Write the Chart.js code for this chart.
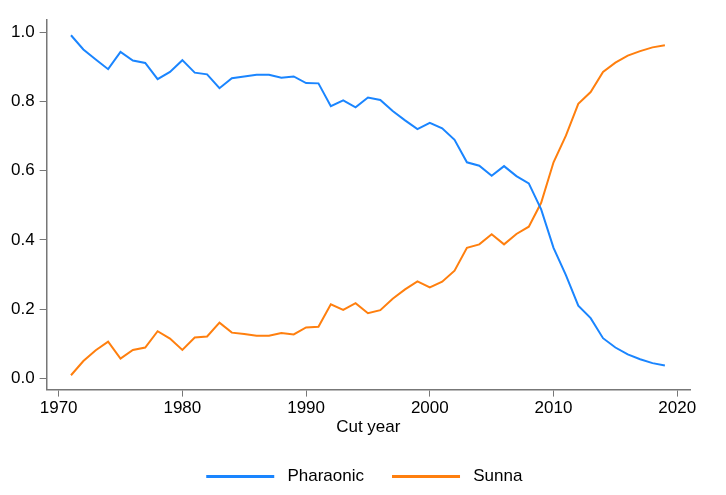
<!DOCTYPE html>
<html>
<head>
<meta charset="utf-8">
<script src="https://cdn.jsdelivr.net/npm/chart.js@4"></script>
<style>
    html, body { margin: 0; padding: 0; background: #fff; }
    #wrap { width: 726px; height: 495px; }
</style>
</head>
<body>
<div id="wrap"><canvas id="cutChart" width="726" height="495"></canvas></div>
<script>
// data
const years = [1971, 1972, 1973, 1974, 1975, 1976, 1977, 1978, 1979, 1980,
               1981, 1982, 1983, 1984, 1985, 1986, 1987, 1988, 1989, 1990,
               1991, 1992, 1993, 1994, 1995, 1996, 1997, 1998, 1999, 2000,
               2001, 2002, 2003, 2004, 2005, 2006, 2007, 2008, 2009, 2010,
               2011, 2012, 2013, 2014, 2015, 2016, 2017, 2018, 2019];

const pharaonic = [0.991, 0.950, 0.921, 0.893, 0.943, 0.918, 0.911, 0.864, 0.885, 0.919,
                   0.883, 0.878, 0.838, 0.867, 0.872, 0.877, 0.877, 0.868, 0.872, 0.853,
                   0.852, 0.786, 0.803, 0.783, 0.811, 0.804, 0.772, 0.745, 0.720, 0.738,
                   0.722, 0.689, 0.624, 0.614, 0.585, 0.613, 0.584, 0.563, 0.488, 0.377,
                   0.298, 0.210, 0.174, 0.116, 0.089, 0.069, 0.055, 0.044, 0.037];

const sunna = [0.009, 0.050, 0.081, 0.106, 0.057, 0.082, 0.089, 0.136, 0.115, 0.082,
               0.118, 0.121, 0.161, 0.132, 0.128, 0.123, 0.123, 0.131, 0.127, 0.147,
               0.149, 0.214, 0.198, 0.217, 0.188, 0.197, 0.230, 0.257, 0.280, 0.263,
               0.279, 0.311, 0.377, 0.387, 0.416, 0.387, 0.417, 0.438, 0.507, 0.624,
               0.701, 0.793, 0.827, 0.885, 0.912, 0.932, 0.945, 0.956, 0.962];

const xTicks = [1970, 1980, 1990, 2000, 2010, 2020];
const yTicks = [0, 0.2, 0.4, 0.6, 0.8, 1.0];

const blue = '#1a85ff';
const orange = '#ff7f0e';
const axisGrey = '#777777';
const fontFamily = '"Liberation Sans", Arial, sans-serif';

function toPoints(values) {
    return years.map((y, i) => ({ x: y, y: values[i] }));
}

// center the legend under the plot area instead of the whole canvas
const legendUnderPlot = {
    id: 'legendUnderPlot',
    afterLayout: function(chart) {
        if (chart.legend) {
            chart.legend.left = chart.chartArea.left - 4;
            chart.legend.right = chart.chartArea.right - 4;
            chart.legend.width = chart.chartArea.right - chart.chartArea.left;
        }
    }
};

const ctx = document.getElementById('cutChart').getContext('2d');
new Chart(ctx, {
    type: 'line',
    data: {
        datasets: [
            {
                label: 'Pharaonic',
                data: toPoints(pharaonic),
                borderColor: blue,
                backgroundColor: blue,
                borderWidth: 2,
                pointRadius: 0,
                tension: 0
            },
            {
                label: 'Sunna',
                data: toPoints(sunna),
                borderColor: orange,
                backgroundColor: orange,
                borderWidth: 2,
                pointRadius: 0,
                tension: 0
            }
        ]
    },
    options: {
        responsive: false,
        animation: false,
        layout: {
            padding: { left: 6, right: 36, top: 20, bottom: 0 }
        },
        plugins: {
            tooltip: { enabled: false },
            legend: {
                position: 'bottom',
                labels: {
                    color: '#000',
                    font: { family: fontFamily, size: 17 },
                    boxWidth: 68,
                    boxHeight: 3,
                    padding: 28,
                    generateLabels: function(chart) {
                        // leading space widens the gap between line and text
                        return chart.data.datasets.map((ds, i) => ({
                            text: ' ' + ds.label,
                            fillStyle: ds.borderColor,
                            strokeStyle: ds.borderColor,
                            lineWidth: 0,
                            fontColor: '#000',
                            datasetIndex: i
                        }));
                    }
                }
            }
        },
        scales: {
            x: {
                type: 'linear',
                min: 1969.03,
                max: 2021.03,
                afterBuildTicks: function(axis) {
                    axis.ticks = xTicks.map(v => ({ value: v }));
                },
                grid: {
                    display: true,
                    drawOnChartArea: false,
                    drawTicks: true,
                    tickLength: 7,
                    color: axisGrey
                },
                border: { display: true, color: axisGrey, width: 1.5 },
                ticks: {
                    color: '#000',
                    padding: 2,
                    maxRotation: 0,
                    font: { family: fontFamily, size: 17 },
                    callback: v => String(v)
                },
                title: {
                    display: true,
                    text: 'Cut year',
                    color: '#000',
                    font: { family: fontFamily, size: 17, lineHeight: 1.0 },
                    padding: { top: -2, bottom: 4 }
                }
            },
            y: {
                min: -0.0325,
                max: 1.035,
                afterBuildTicks: function(axis) {
                    axis.ticks = yTicks.map(v => ({ value: v }));
                },
                grid: {
                    display: true,
                    drawOnChartArea: false,
                    drawTicks: true,
                    tickLength: 7,
                    color: axisGrey
                },
                border: { display: true, color: axisGrey, width: 1.5 },
                ticks: {
                    color: '#000',
                    padding: 5,
                    font: { family: fontFamily, size: 17 },
                    callback: v => v.toFixed(1)
                }
            }
        }
    },
    plugins: [legendUnderPlot]
});
</script>
</body>
</html>
